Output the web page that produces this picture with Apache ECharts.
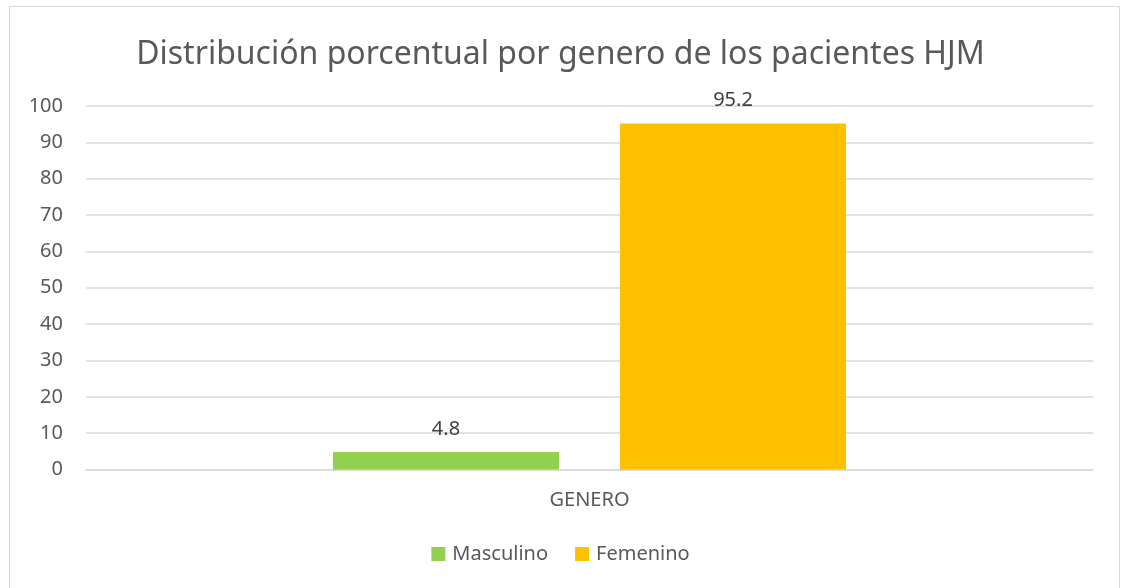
<!DOCTYPE html>
<html>
<head>
<meta charset="utf-8">
<script src="https://cdn.jsdelivr.net/npm/echarts@6/dist/echarts.min.js"></script>
<style>
  html, body { margin: 0; padding: 0; background: #fff; }
  #chart { width: 1121px; height: 588px; position: relative; }
  .frame {
    position: absolute; left: 9px; top: 6px; width: 1111px; height: 600px;
    border: 1px solid #d9d9d9; box-sizing: border-box; pointer-events: none;
  }
</style>
</head>
<body>
<div id="chart"></div>
<div class="frame"></div>
<script>
  const categories = ['GENERO']
  const seriesNames = ['Masculino', 'Femenino']
  const masculino = [4.8]
  const femenino = [95.2]
  const yTicks = { min: 0, max: 100, interval: 10 }

  const chart = echarts.init(document.getElementById('chart'))
  const font = '"Noto Sans", "Open Sans", sans-serif'
  chart.setOption({
    backgroundColor: '#fff',
    animation: false,
    textStyle: { fontFamily: font },
    title: {
      text: 'Distribución porcentual por genero de los pacientes HJM',
      left: 'center',
      top: 34,
      textStyle: { fontFamily: font, fontSize: 32, fontWeight: 'normal', color: '#595959' }
    },
    legend: {
      top: 537,
      left: 'center',
      icon: 'rect',
      itemWidth: 14,
      itemHeight: 14,
      itemGap: 27,
      textStyle: { fontFamily: font, fontSize: 20, lineHeight: 24, color: '#595959', padding: [0, 0, 0, 2] },
      data: seriesNames
    },
    grid: { left: 86, right: 28, top: 106, bottom: 118.5, containLabel: false },
    xAxis: {
      type: 'category',
      data: categories,
      axisLine: { lineStyle: { color: '#d9d9d9', width: 1.5 } },
      axisTick: { show: false },
      axisLabel: { fontFamily: font, fontSize: 20, color: '#595959', margin: 21 }
    },
    yAxis: {
      type: 'value',
      min: yTicks.min,
      max: yTicks.max,
      interval: yTicks.interval,
      axisLine: { show: false },
      axisTick: { show: false },
      axisLabel: { fontFamily: font, fontSize: 20, color: '#595959', margin: 23 },
      splitLine: { lineStyle: { color: '#d9d9d9', width: 1.5 } }
    },
    series: [
      {
        name: seriesNames[0],
        type: 'bar',
        data: masculino,
        barWidth: 226,
        barGap: '27%',
        itemStyle: { color: '#92d050' },
        label: { show: true, position: 'top', distance: 13, fontFamily: font, fontSize: 20, color: '#404040' }
      },
      {
        name: seriesNames[1],
        type: 'bar',
        data: femenino,
        barWidth: 226,
        itemStyle: { color: '#ffc000' },
        label: { show: true, position: 'top', distance: 13, fontFamily: font, fontSize: 20, color: '#404040' }
      }
    ]
  })
</script>
</body>
</html>
